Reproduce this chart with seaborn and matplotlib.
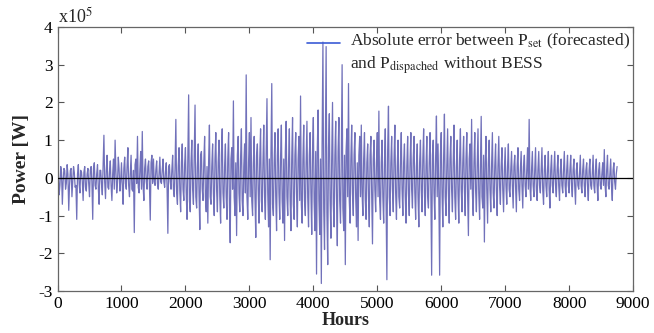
import numpy as np
import pandas as pd
import matplotlib
matplotlib.use("Agg")
import matplotlib.pyplot as plt
from matplotlib.ticker import FuncFormatter
import seaborn as sns

# Spike samples every 25 h over one year (units of 1e5 W)
spike_hours = np.arange(0, 8751, 25)
spike_1e5W = [
    2.0, -0.45, 0.3, -0.7, 0.25, -0.3, 0.35, -0.86, 0.2, -0.5, 0.3, -0.25, -1.1, 0.35, -0.4, 0.15, -0.6, 0.3, -0.35, 0.25,
    -0.5, 0.3, -1.1, 0.4, -0.3, 0.35, -0.7, 0.2, -0.45, 1.13, -0.55, 0.6, -0.3, 0.45, -0.6, 0.5, 1.0, -0.4, 0.55, -0.35,
    0.4, -0.7, 0.55, -0.3, 0.8, -0.5, 0.6, -0.35, -1.45, 0.5, 1.1, -0.4, 0.7, 1.23, -0.6, 0.5, -0.3, 0.45, -1.12, 0.6,
    0.5, -0.2, 0.45, -0.3, 0.55, -0.15, 0.5, -0.25, 0.4, -1.47, 0.35, -0.3, 0.6, -0.5, 1.55, -0.7, 0.8, -0.9, 0.9, -0.6,
    0.8, -1.1, 2.2, -0.9, 1.0, -0.7, 1.93, -0.8, 0.9, -1.37, 0.7, -0.6, 1.1, -0.9, -1.2, 1.4, -0.7, 0.9, -1.0, 1.2,
    -0.9, 1.0, -1.2, 1.3, -0.8, 0.9, -1.1, 1.2, -1.72, 0.8, 2.04, -1.0, -1.53, 1.1, -0.9, 1.3, -1.0, 0.9, 2.73, -1.1,
    1.2, 1.6, -1.0, 1.1, -1.58, 0.9, -1.2, 1.3, -0.9, 1.4, -1.1, 2.1, -1.3, -2.17, 2.5, -1.0, 1.2, -1.4, 1.3, -1.1,
    1.4, -1.2, -1.66, 1.5, -1.0, 1.3, -1.4, 1.6, -1.1, 1.2, -1.3, 1.1, 2.17, -1.2, 1.4, -1.0, 1.5, -1.3, 1.2, -1.5,
    1.6, -1.4, -2.55, 1.8, -1.5, -2.8, 3.6, -1.9, 3.48, -2.3, 1.7, -1.6, 2.0, -1.3, 1.5, -1.8, 1.6, -1.2, 3.0, -1.4,
    -2.3, 1.3, 2.5, -1.2, 1.4, -1.0, 1.2, -1.3, -1.66, 1.1, 1.4, -1.0, 1.2, -1.1, 0.9, -1.3, 1.1, -1.75, 1.0, -0.9,
    1.2, 1.77, -1.1, 1.0, -1.2, 1.3, -2.7, 1.9, -1.0, 1.1, -0.9, 1.4, -1.1, 1.0, -0.8, 1.2, -1.0, 0.9, -1.2, 1.1,
    -1.0, 1.2, -0.8, 1.1, -1.1, 0.9, -1.3, 1.0, -0.9, 1.3, -1.0, 1.1, -0.8, 1.2, -2.58, 1.0, -1.1, 1.64, 0.9, -2.58,
    1.2, -1.3, 1.69, -1.0, 1.3, -1.2, 1.1, -0.9, 1.4, -1.1, 1.0, -1.2, 1.3, -0.9, 1.1, -1.0, 1.2, -1.53, 0.9, 1.55,
    -1.0, 1.2, -0.9, 1.3, -1.1, 1.63, -0.8, -1.7, 1.1, -1.2, 1.0, -0.9, 1.2, -0.8, 0.9, -1.0, 1.1, -0.7, 0.8, -0.9,
    0.8, -0.7, 0.9, -0.5, 0.7, -0.8, 0.6, -0.9, 0.8, -0.6, 0.7, -0.8, 0.6, -0.5, 0.8, 1.55, -0.6, 0.7, -0.5, 0.8,
    -0.6, 0.7, -0.4, 0.8, -0.7, 0.6, -0.5, 0.7, -0.8, 0.6, -0.4, 0.7, -0.5, 0.6, -0.6, 0.5, -0.4, 0.7, -0.5, 0.6,
    -0.4, 0.6, -0.5, 0.5, -0.7, 0.4, -0.3, 0.6, -0.4, 0.5, -0.5, 0.4, -0.6, 0.5, -0.3, 0.6, -0.4, 0.5, -0.6, 0.4,
    -0.3, 0.4, 0.75, -0.5, 0.6, -0.3, 0.5, -0.6, 0.4, -0.3, 0.3,
]

# Small in-between errors, offset by 12 h from the spike samples (units of 1e5 W)
core_hours = np.arange(12, 8751, 25)
core_1e5W = [
    0.1, -0.2, 0.15, -0.1, 0.2, -0.15, 0.1, -0.2, 0.25, -0.1, 0.15, -0.2, 0.1, -0.15, 0.2, -0.1, 0.15, -0.25, 0.1, -0.15,
    0.2, -0.1, 0.25, -0.2, 0.1, -0.25, 0.2, -0.15, 0.3, -0.1, 0.2, -0.25, 0.15, -0.2, 0.1, -0.3, 0.2, -0.15, 0.25, -0.1,
    -0.2, 0.25, -0.15, 0.3, -0.2, 0.1, -0.3, 0.2, 0.35, -0.15, -0.25, 0.2, -0.3, -0.2, 0.25, -0.1, 0.3, -0.2, 0.4, -0.15,
    -0.1, 0.2, -0.15, 0.1, -0.1, 0.2, -0.1, 0.15, -0.2, 0.3, -0.1, 0.2, -0.3, 0.25, -0.4, 0.3, -0.35, 0.4, -0.3, 0.35,
    -0.4, 0.5, -0.6, 0.4, -0.3, 0.5, -0.5, 0.3, -0.4, 0.6, -0.3, 0.4, -0.5, 0.3, 0.4, -0.5, 0.3, -0.4, 0.5, -0.3,
    0.4, -0.5, 0.6, -0.4, 0.3, -0.5, 0.5, -0.6, 0.5, -0.3, -0.5, 0.4, 0.6, -0.4, 0.5, -0.6, 0.3, -0.4, -0.5, 0.4,
    -0.5, -0.6, 0.4, -0.5, 0.6, -0.3, 0.5, -0.6, 0.4, -0.5, 0.6, -0.4, 0.5, 0.6, -0.7, 0.4, -0.5, 0.6, -0.4, 0.5,
    -0.6, 0.5, 0.7, -0.5, 0.4, -0.6, 0.5, -0.7, 0.6, -0.4, 0.5, -0.6, -0.7, 0.5, -0.6, 0.4, -0.5, 0.6, -0.4, 0.7,
    -0.6, 0.7, 0.8, -0.6, 0.5, 0.9, -0.8, 0.7, -0.9, 0.8, -0.6, 0.5, -0.7, 0.6, -0.5, 0.7, -0.6, 0.5, -0.8, 0.6,
    0.7, -0.5, -0.6, 0.5, -0.4, 0.6, -0.5, 0.4, 0.6, -0.5, -0.4, 0.5, -0.6, 0.4, -0.5, 0.6, -0.4, 0.5, -0.3, 0.4,
    -0.5, -0.6, 0.4, -0.5, 0.4, -0.6, 0.7, -0.5, 0.4, -0.3, 0.5, -0.4, 0.3, -0.5, 0.4, -0.3, 0.4, -0.5, 0.3, -0.4,
    0.4, -0.3, 0.5, -0.4, 0.3, -0.5, 0.4, -0.3, 0.5, -0.4, 0.3, -0.5, 0.4, -0.3, 0.6, -0.4, 0.5, -0.5, -0.4, 0.6,
    -0.4, 0.5, -0.5, 0.3, -0.4, 0.5, -0.3, 0.4, -0.5, 0.3, -0.4, 0.5, -0.3, 0.4, -0.3, 0.5, -0.4, 0.5, -0.3, -0.4,
    0.4, -0.3, 0.3, -0.4, 0.3, -0.5, 0.6, 0.4, -0.3, 0.4, -0.3, 0.3, -0.4, 0.3, -0.3, 0.3, -0.2, 0.3, -0.3, 0.2,
    -0.2, 0.3, -0.3, 0.2, -0.2, 0.3, -0.2, 0.3, -0.3, 0.2, -0.2, 0.3, -0.2, 0.2, -0.3, -0.2, 0.2, -0.2, 0.2, -0.3,
    0.2, -0.2, 0.2, -0.3, 0.2, -0.2, 0.2, -0.3, 0.2, -0.2, 0.2, -0.2, 0.2, -0.2, 0.2, -0.2, 0.2, -0.2, 0.2, -0.2,
    0.2, -0.2, 0.2, -0.2, 0.2, -0.2, 0.1, -0.2, 0.2, -0.2, 0.2, -0.2, 0.2, -0.2, 0.1, -0.2, 0.2, -0.2, 0.2, -0.2,
    0.1, -0.2, -0.2, 0.2, -0.2, 0.1, -0.2, 0.2, -0.1, 0.1,
]

x_ticks = [0, 1000, 2000, 3000, 4000, 5000, 6000, 7000, 8000, 9000]
y_ticks_1e5 = [-3, -2, -1, 0, 1, 2, 3, 4]

legend_label = ("Absolute error between P$_{\\mathrm{set}}$ (forecasted)\n"
                "and P$_{\\mathrm{dispached}}$ without BESS")

assert len(spike_hours) == len(spike_1e5W)
assert len(core_hours) == len(core_1e5W)
df = pd.DataFrame({
    "Hours": np.concatenate([spike_hours, core_hours]),
    "Power": np.concatenate([spike_1e5W, core_1e5W]) * 1e5,
}).sort_values("Hours")

sns.set_style("ticks")
plt.rcParams["font.family"] = ["Liberation Serif", "DejaVu Serif"]
plt.rcParams["mathtext.fontset"] = "stix"

fig = plt.figure(figsize=(6.54, 3.33), dpi=100)
ax = fig.add_axes([0.088, 0.126, 0.880, 0.793])

sns.lineplot(data=df, x="Hours", y="Power", ax=ax, estimator=None, sort=False,
             color="#1a1a90", alpha=0.62, linewidth=0.9, label=legend_label)
ax.axhline(0, color="black", linewidth=0.9, zorder=5)

ax.set_xlim(0, 9000)
ax.set_ylim(-3e5, 4e5)
ax.set_xticks(x_ticks)
ax.set_yticks([v * 1e5 for v in y_ticks_1e5])
ax.yaxis.set_major_formatter(FuncFormatter(lambda v, p: f"{v / 1e5:g}"))
ax.tick_params(direction="in", top=True, right=True, length=4, width=0.8,
               labelsize=12.5, colors="#555555", labelcolor="black")
for s in ax.spines.values():
    s.set_color("#666666")
    s.set_linewidth(0.9)

ax.set_xlabel("Hours", fontsize=13, fontweight="bold", labelpad=0)
ax.set_ylabel("Power [W]", fontsize=14, fontweight="bold", labelpad=6)
ax.text(0.0, 1.0, "x10$^5$", transform=ax.transAxes, fontsize=13,
        ha="left", va="bottom")

leg = ax.legend(loc="upper left", bbox_to_anchor=(0.456, 0.93),
                bbox_transform=fig.transFigure, frameon=False, fontsize=12.5,
                handlelength=1.9, handletextpad=0.6, borderpad=0,
                labelspacing=0.2)
h = leg.legend_handles[0]
h.set_color("#3b5bd6")
h.set_alpha(1.0)
h.set_linewidth(1.2)
# keep the handle level with the first text line
yd = np.asarray(h.get_ydata(), dtype=float)
h.set_ydata(yd + 8)

fig.savefig("out.png", dpi=100)
